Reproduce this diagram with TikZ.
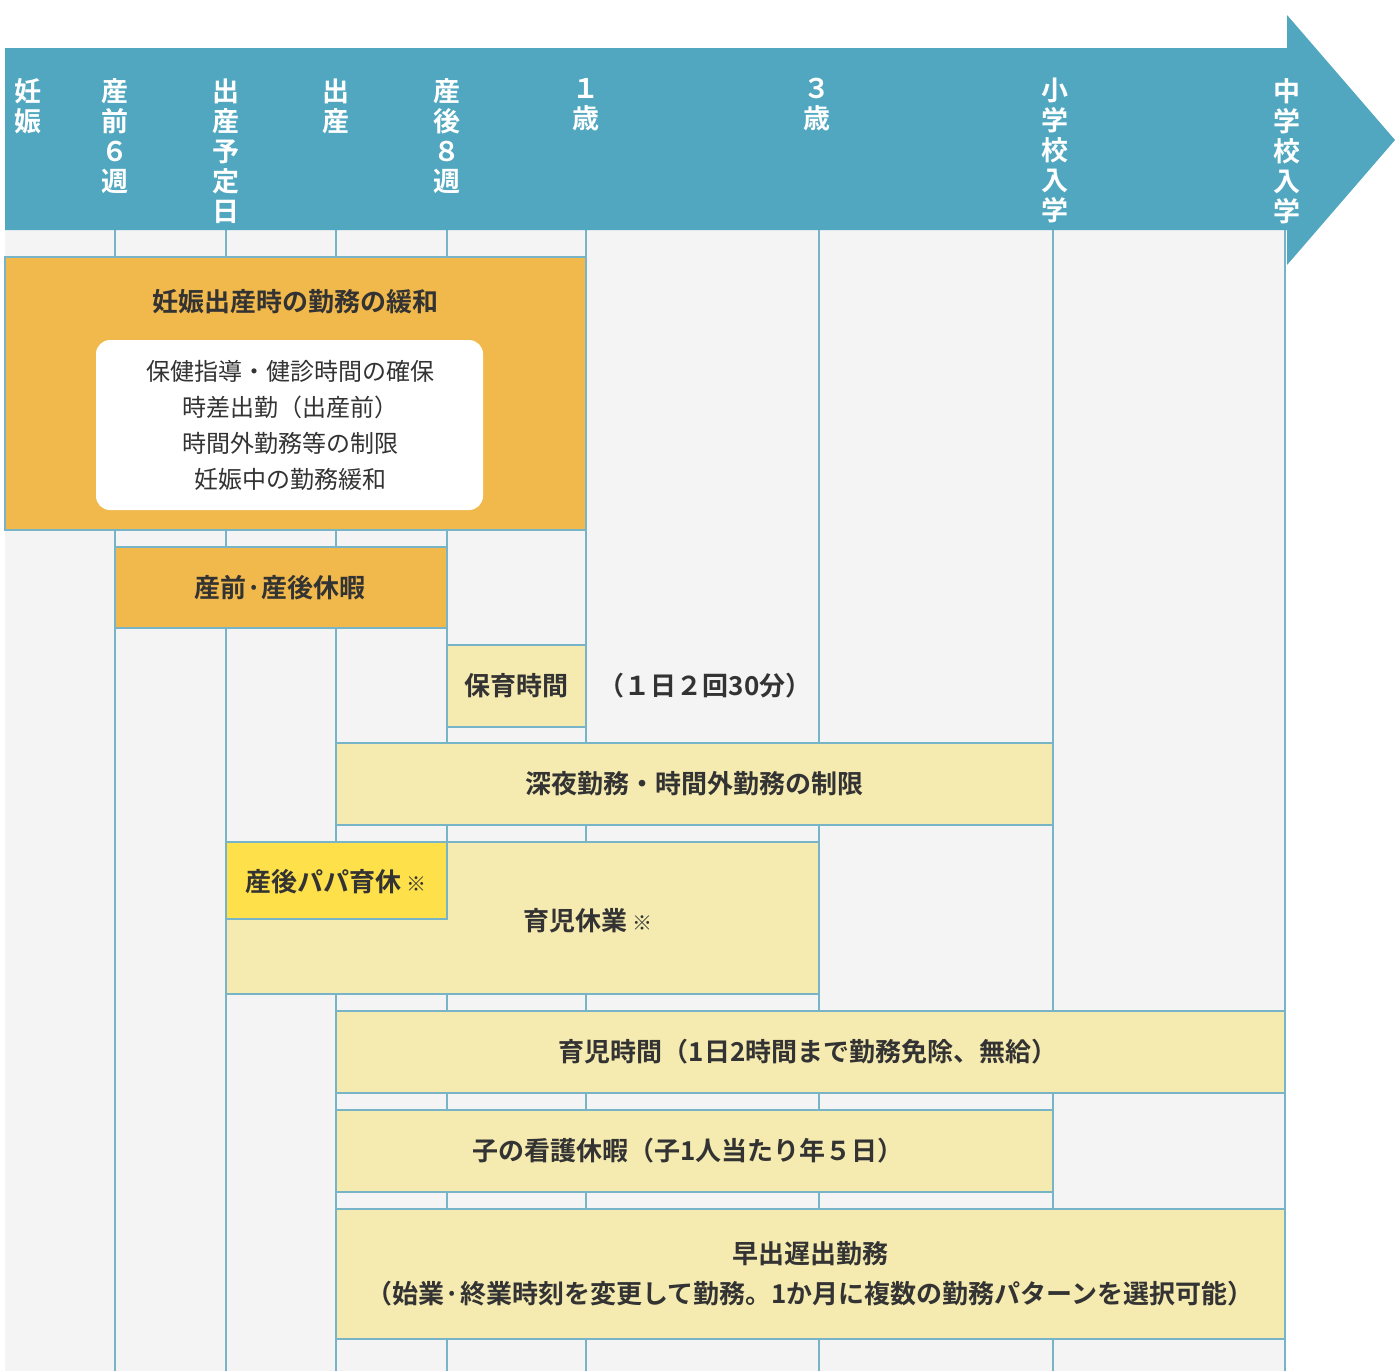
\documentclass[tikz,border=0pt]{standalone}
\usepackage{fontspec}
\setmainfont{Noto Sans CJK JP}
\newfontfamily\cjkb{Noto Sans CJK JP Bold}
\begin{document}
\begin{tikzpicture}[x=0.5pt,y=-0.5pt,
  hdr/.style={text=white,font=\cjkb\fontsize{13.5}{15}\selectfont,align=center,anchor=north,inner sep=0},
  obox/.style={fill=orangeC,draw=lineC,line width=0.6pt},
  ybox/.style={fill=paleC,draw=lineC,line width=0.6pt},
  lbl/.style={text=textC,font=\cjkb\fontsize{13}{16}\selectfont,align=center},
  vline/.style={draw=lineC,line width=0.6pt}]
\definecolor{bandC}{HTML}{50A7BF}
\definecolor{bgC}{HTML}{F4F4F4}
\definecolor{lineC}{HTML}{78B4C8}
\definecolor{orangeC}{HTML}{F1B94B}
\definecolor{paleC}{HTML}{F5EBB0}
\definecolor{yelC}{HTML}{FDE04A}
\definecolor{textC}{HTML}{333333}
\useasboundingbox (0,0) rectangle (1400,1371);
\fill[white] (0,0) rectangle (1400,1371);
\fill[bgC] (5,230) rectangle (1285,1371);
\foreach \x in {115,226,336,447,586,819,1053,1285} \draw[vline] (\x,230) -- (\x,1371);
\fill[bandC] (5,48) -- (1287,48) -- (1287,15) -- (1395,140) -- (1287,265) -- (1287,230) -- (5,230) -- cycle;
\node[hdr] (h0) at (28,78) {妊\\娠};
\node[hdr] (h1) at (115,78) {産\\前\\６\\週};
\node[hdr] (h2) at (226,78) {出\\産\\予\\定\\日};
\node[hdr] (h3) at (336,78) {出\\産};
\node[hdr] (h4) at (447,78) {産\\後\\８\\週};
\node[hdr] (h5) at (586,78) {１\\歳};
\node[hdr] (h6) at (817,78) {３\\歳};
\node[hdr] (h7) at (1055,78) {小\\学\\校\\入\\学};
\node[hdr] (h8) at (1287,78) {中\\学\\校\\入\\学};
% box 1
\draw[obox] (5,257) rectangle (586,530);
\node[lbl] (t1) at (295,302) {妊娠出産時の勤務の緩和};
\fill[white,rounded corners=7pt] (96,340) rectangle (483,510);
\node[text=textC,font=\fontsize{12}{18}\selectfont,align=center] (t1b) at (290,425) {保健指導・健診時間の確保\\時差出勤（出産前）\\時間外勤務等の制限\\妊娠中の勤務緩和};
\draw[obox] (115,547) rectangle (447,628);
\node[lbl] (t2) at (280,588) {産前·産後休暇};
\draw[ybox] (447,645) rectangle (586,727);
\node[lbl] (t3) at (516,686) {保育時間};
\node[lbl] (t3b) at (705,686) {（１日２回30分）};
\draw[ybox] (336,743) rectangle (1053,825);
\node[lbl] (t4) at (694,784) {深夜勤務・時間外勤務の制限};
\draw[ybox] (226,842) rectangle (819,994);
\node[lbl] (t5) at (588,921) {育児休業\,{\fontsize{10}{12}\selectfont ※}};
\draw[fill=yelC,draw=lineC,line width=0.6pt] (226,842) rectangle (447,919);
\node[lbl] (t6) at (336,882) {産後パパ育休\,{\fontsize{10}{12}\selectfont ※}};
\draw[ybox] (336,1011) rectangle (1285,1093);
\node[lbl] (t7) at (808,1052) {育児時間（1日2時間まで勤務免除、無給）};
\draw[ybox] (336,1110) rectangle (1053,1192);
\node[lbl] (t8) at (688,1151) {子の看護休暇（子1人当たり年５日）};
\draw[ybox] (336,1209) rectangle (1285,1339);
\node[lbl,font=\cjkb\fontsize{13}{20}\selectfont] (t9) at (810,1274) {早出遅出勤務\\（始業·終業時刻を変更して勤務。1か月に複数の勤務パターンを選択可能）};
\end{tikzpicture}
\end{document}
